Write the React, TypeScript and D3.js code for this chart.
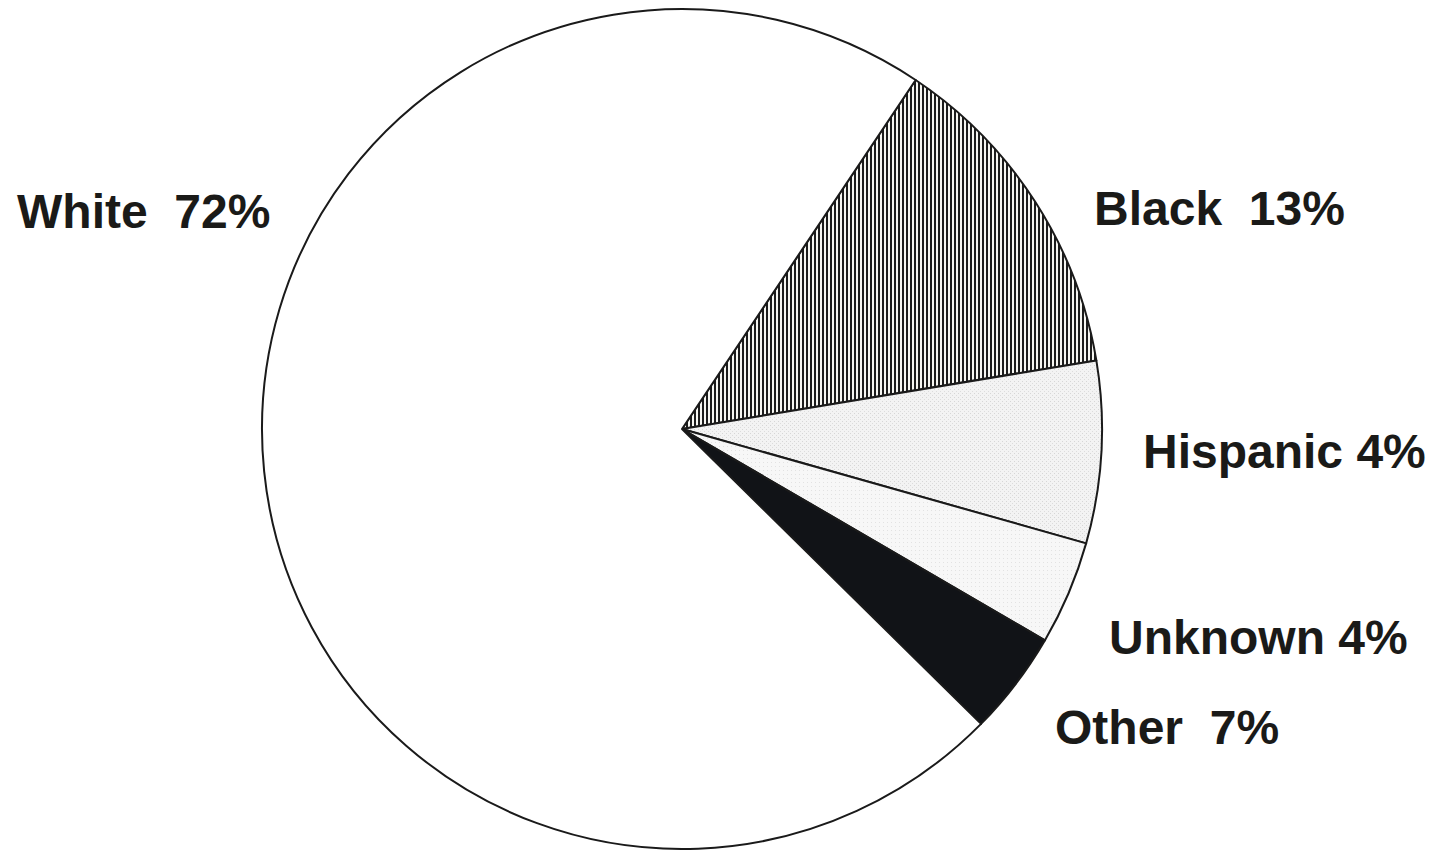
import React from "react";
import * as d3 from "d3";

// Data (slice sizes as drawn, label texts as printed)
const categories = ["Black", "Hispanic", "Unknown", "Other", "White"];
const values = [13, 7, 4, 4, 72];
const labelTexts = ["Black  13%", "Hispanic 4%", "Unknown 4%", "Other  7%", "White  72%"];

const W = 1432;
const H = 851;

export default function App() {
  const cx = 682;
  const cy = 429;
  const r = 420;

  const pie = d3
    .pie<number>()
    .sort(null)
    .value((d) => d)
    .startAngle((33.8 * Math.PI) / 180)
    .endAngle((33.8 * Math.PI) / 180 + 2 * Math.PI);
  const arcs = pie(values);
  const arcGen = d3.arc<d3.PieArcDatum<number>>().innerRadius(0).outerRadius(r);

  const fills: Record<string, string> = {
    Black: "url(#vhatch)",
    Hispanic: "url(#stipple1)",
    Unknown: "url(#stipple2)",
    Other: "#111317",
    White: "#ffffff",
  };

  const labelPos: Record<string, [number, number]> = {
    Black: [1094, 225],
    Hispanic: [1143, 468],
    Unknown: [1109, 654],
    Other: [1055, 744],
    White: [17, 228],
  };

  return (
    <svg
      width={W}
      height={H}
      viewBox={`0 0 ${W} ${H}`}
      style={{ position: "absolute", left: 0, top: 0, background: "#fff" }}
    >
      <defs>
        <pattern id="vhatch" patternUnits="userSpaceOnUse" width={4} height={10}>
          <rect width={4} height={10} fill="#f6f6f2" />
          <rect x={0} y={0} width={2} height={10} fill="#1c1c1c" />
        </pattern>
        <pattern id="stipple1" patternUnits="userSpaceOnUse" width={4} height={4}>
          <rect width={4} height={4} fill="#f3f3f3" />
          <rect x={0} y={0} width={1} height={1} fill="#d6d6d6" />
          <rect x={2} y={2} width={1} height={1} fill="#dcdcdc" />
        </pattern>
        <pattern id="stipple2" patternUnits="userSpaceOnUse" width={4} height={4}>
          <rect width={4} height={4} fill="#f7f7f7" />
          <rect x={1} y={1} width={1} height={1} fill="#e2e2e2" />
        </pattern>
      </defs>
      <g transform={`translate(${cx},${cy})`}>
        {arcs.map((a, i) => (
          <path
            key={categories[i]}
            d={arcGen(a) || ""}
            fill={fills[categories[i]]}
            stroke="#1a1a1a"
            strokeWidth={2}
            strokeLinejoin="round"
          />
        ))}
      </g>
      {categories.map((c, i) => (
        <text
          key={c}
          x={labelPos[c][0]}
          y={labelPos[c][1]}
          fontFamily="'Liberation Sans', Arial, Helvetica, sans-serif"
          fontWeight="bold"
          fontSize={48}
          fill="#1a1a18"
          style={{ whiteSpace: "pre" }}
        >
          {labelTexts[i]}
        </text>
      ))}
    </svg>
  );
}
